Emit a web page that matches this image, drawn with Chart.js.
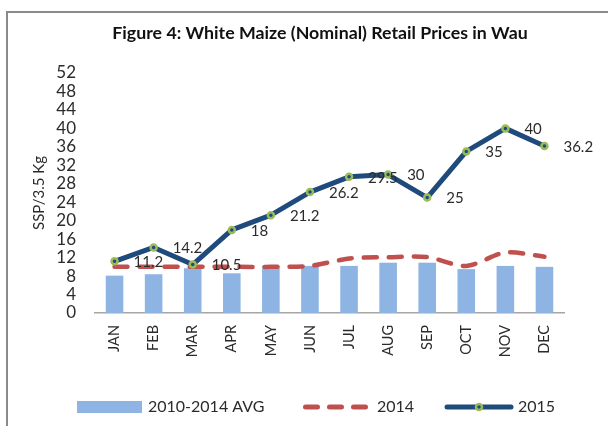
<!DOCTYPE html>
<html>
<head>
<meta charset="utf-8">
<script src="https://cdn.jsdelivr.net/npm/chart.js@4/dist/chart.umd.min.js"></script>
<style>
  body { margin: 0; background: #fff; }
  #wrap { position: relative; width: 608px; height: 426px; overflow: hidden; }
  #frame { position: absolute; left: 6px; top: 11px; width: 700px; height: 500px;
           border-left: 2px solid #8a8a8a; border-top: 2px solid #8a8a8a; }
  #chart { position: absolute; left: 0; top: 0; }
</style>
</head>
<body>
<div id="wrap">
  <div id="frame"></div>
  <canvas id="chart" width="608" height="426"></canvas>
</div>
<script>
// values
const months = ["JAN", "FEB", "MAR", "APR", "MAY", "JUN", "JUL", "AUG", "SEP", "OCT", "NOV", "DEC"];
const avg2010_2014 = [8.1, 8.4, 9.7, 8.6, 10.2, 10.2, 10.2, 10.9, 10.9, 9.5, 10.2, 10.0];
const prices2014 = [10, 10, 10, 10, 10, 10.2, 11.8, 12.1, 12.1, 10.2, 13.1, 12.2];
const prices2015 = [11.2, 14.2, 10.5, 18, 21.2, 26.2, 29.5, 30, 25, 35, 40, 36.2];
const yMax = 52;
const yStep = 4;
const chartTitle = "Figure 4: White Maize (Nominal) Retail Prices in Wau";

const barColor = "#8db4e2";
const redColor = "#c0504d";
const navy = "#1f4a7c";
const green = "#9bbb59";
const textColor = "#2b2b2b";
const fontFam = "Lato, 'Open Sans', sans-serif";

// title sits a bit right of the plot centre, like the original
const topTitle = {
  id: "topTitle",
  afterDraw(chart) {
    const ctx = chart.ctx;
    ctx.save();
    ctx.font = "bold 17.75px " + fontFam;
    ctx.fillStyle = "#111";
    ctx.textAlign = "center";
    ctx.textBaseline = "middle";
    ctx.fillText(chartTitle, 320, 33);
    ctx.restore();
  }
};

// value labels to the right of the 2015 points
const valueLabels = {
  id: "valueLabels",
  afterDatasetsDraw(chart) {
    const ctx = chart.ctx;
    const meta = chart.getDatasetMeta(2);
    ctx.save();
    ctx.font = "15px " + fontFam;
    ctx.fillStyle = textColor;
    ctx.textAlign = "left";
    ctx.textBaseline = "middle";
    meta.data.forEach((pt, i) => {
      ctx.fillText(String(prices2015[i]), pt.x + 19, pt.y + 1);
    });
    ctx.restore();
  }
};

// legend along the bottom
const bottomLegend = {
  id: "bottomLegend",
  afterDraw(chart) {
    const ctx = chart.ctx;
    const y = 407;
    ctx.save();
    ctx.font = "16px " + fontFam;
    ctx.textBaseline = "middle";

    ctx.fillStyle = barColor;
    ctx.fillRect(77, 401, 65, 12);
    ctx.fillStyle = textColor;
    ctx.fillText("2010-2014 AVG", 148, y);

    ctx.strokeStyle = redColor;
    ctx.lineWidth = 5;
    ctx.lineCap = "round";
    ctx.setLineDash([12, 12]);
    ctx.beginPath();
    ctx.moveTo(305.5, y);
    ctx.lineTo(366, y);
    ctx.stroke();
    ctx.setLineDash([]);
    ctx.fillText("2014", 377, y);

    ctx.strokeStyle = navy;
    ctx.beginPath();
    ctx.moveTo(447, y);
    ctx.lineTo(511, y);
    ctx.stroke();
    ctx.beginPath();
    ctx.arc(479, y, 3, 0, Math.PI * 2);
    ctx.fillStyle = navy;
    ctx.fill();
    ctx.lineWidth = 2.5;
    ctx.strokeStyle = green;
    ctx.stroke();
    ctx.fillStyle = textColor;
    ctx.fillText("2015", 518, y);
    ctx.restore();
  }
};

new Chart(document.getElementById("chart"), {
  type: "bar",
  data: {
    labels: months,
    datasets: [
      {
        type: "bar",
        label: "2010-2014 AVG",
        data: avg2010_2014,
        backgroundColor: barColor,
        barPercentage: 0.45,
        categoryPercentage: 1,
        order: 3
      },
      {
        type: "line",
        label: "2014",
        data: prices2014,
        borderColor: redColor,
        borderWidth: 4.5,
        borderDash: [13, 12],
        borderCapStyle: "round",
        tension: 0.3,
        pointRadius: 0,
        fill: false,
        order: 2
      },
      {
        type: "line",
        label: "2015",
        data: prices2015,
        borderColor: navy,
        borderWidth: 5,
        borderJoinStyle: "round",
        tension: 0,
        pointRadius: 3,
        pointBorderWidth: 2.5,
        pointBackgroundColor: navy,
        pointBorderColor: green,
        fill: false,
        order: 1
      }
    ]
  },
  options: {
    responsive: false,
    devicePixelRatio: 1,
    animation: false,
    layout: { padding: { left: 28, right: 44, top: 73, bottom: 0 } },
    plugins: {
      legend: { display: false },
      tooltip: { enabled: false },
      title: { display: false }
    },
    scales: {
      x: {
        grid: { display: false, drawTicks: false },
        border: { color: "#a6a6a6", width: 1.5 },
        ticks: {
          color: textColor,
          font: { family: fontFam, size: 14.5 },
          minRotation: 90,
          maxRotation: 90,
          padding: 12,
          autoSkip: false
        },
        afterFit(scale) { scale.height = 113; }
      },
      y: {
        min: 0,
        max: yMax,
        grid: { display: false, drawTicks: false },
        border: { display: false },
        ticks: {
          stepSize: yStep,
          autoSkip: false,
          color: textColor,
          font: { family: fontFam, size: 17 },
          padding: 19
        },
        title: {
          display: true,
          text: "SSP/3.5 Kg",
          color: textColor,
          font: { family: fontFam, size: 15 },
          padding: { top: 2, bottom: 0 }
        },
        afterFit(scale) { scale.width = 67; }
      }
    }
  },
  plugins: [topTitle, valueLabels, bottomLegend]
});
</script>
</body>
</html>
